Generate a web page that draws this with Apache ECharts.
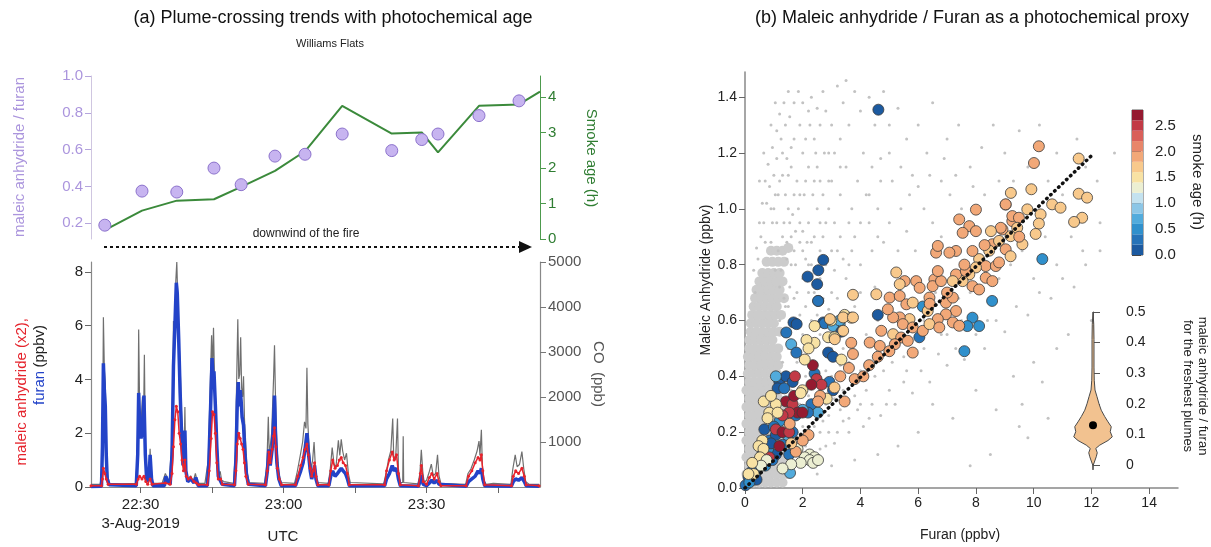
<!DOCTYPE html>
<html>
<head>
<meta charset="utf-8">
<script src="https://cdn.jsdelivr.net/npm/echarts@6/dist/echarts.min.js"></script>
<style>
html, body { margin: 0; padding: 0; background: #fff; }
#chart { width: 1211px; height: 547px; }
</style>
</head>
<body>
<div id="chart"></div>
<script>
// ---- panel (a) top: plume-crossing ratios and smoke age (time in minutes UTC) ----
var crossTime = [1342.5, 1350.3, 1357.6, 1365.4, 1371.1, 1378.2, 1384.5, 1392.3, 1402.7, 1409.0, 1412.4, 1421.0, 1429.4];
var crossRatio = [0.19, 0.375, 0.37, 0.50, 0.41, 0.565, 0.575, 0.685, 0.595, 0.655, 0.685, 0.785, 0.865];
var ageTime = [1342.5, 1350.3, 1357.6, 1365.4, 1371.1, 1378.2, 1384.5, 1392.3, 1402.7, 1409.0, 1412.4, 1421.0, 1429.4, 1433.8];
var ageHours = [0.25, 0.80, 1.08, 1.12, 1.47, 1.92, 2.47, 3.75, 2.97, 3.0, 2.44, 3.75, 3.79, 4.15];

// ---- panel (a) bottom: time series [minute, value] ----
var coSeries = [
  [1339.6,60],[1341.5,60],
  [1341.9,300],[1342.1,2200],[1342.2,3770],[1342.4,2600],[1342.6,2300],[1342.8,900],[1343.1,250],[1343.5,80],
  [1346,70],[1349.0,80],
  [1349.3,700],[1349.5,2000],[1349.6,3500],[1349.8,1800],[1350.1,1400],[1350.4,2000],[1350.6,1300],[1350.8,2940],[1351.0,900],[1351.3,150],[1351.6,100],[1351.9,500],[1352.0,850],[1352.2,300],[1352.5,80],
  [1354.5,80],[1355.2,300],[1355.6,200],[1356.0,100],
  [1356.5,900],[1356.8,2500],[1356.9,3690],[1357.1,3000],[1357.4,4600],[1357.6,5000],[1357.8,4200],[1358.0,3400],[1358.3,2700],[1358.6,1600],[1358.9,700],[1359.1,500],[1359.3,1780],[1359.5,400],[1359.8,150],[1360.5,250],[1361,100],[1361.5,300],[1362,80],
  [1363.5,80],
  [1364.2,600],[1364.6,2200],[1364.9,3370],[1365.1,2600],[1365.3,3540],[1365.5,2500],[1365.8,1800],[1366.1,900],[1366.4,250],[1366.7,350],[1367.0,150],[1367.5,120],
  [1369.5,80],
  [1369.9,800],[1370.2,2600],[1370.4,3730],[1370.6,2400],[1370.8,2500],[1371.0,3330],[1371.2,2200],[1371.4,2000],[1371.6,2460],[1371.8,1500],[1372.1,900],[1372.4,300],[1372.8,100],
  [1376.0,80],
  [1376.5,500],[1376.8,1560],[1377.0,700],[1377.5,1200],[1377.9,2400],[1378.1,3150],[1378.3,2000],[1378.6,900],[1379.0,300],[1379.5,100],
  [1382.3,80],
  [1382.8,300],[1383.5,700],[1384.0,1000],[1384.4,1450],[1384.7,1300],[1384.9,2650],[1385.1,1400],[1385.4,800],[1385.8,400],[1386.1,600],[1386.4,1000],[1386.7,400],[1387.1,100],
  [1389.4,80],
  [1389.8,400],[1390.2,875],[1390.6,500],[1391.0,450],[1391.5,1040],[1391.8,700],[1392.1,1060],[1392.4,800],[1392.8,600],[1393.2,750],[1393.6,300],[1394.0,100],
  [1401.0,70],
  [1401.5,300],[1402.0,600],[1402.5,800],[1402.9,1520],[1403.1,700],[1403.5,600],[1403.9,1520],[1404.1,400],[1404.5,100],[1405.0,100],[1405.1,1130],[1405.2,100],[1405.5,60],
  [1408.2,70],
  [1408.6,300],[1408.9,825],[1409.2,350],[1409.5,100],[1410.0,150],[1410.6,350],[1411.0,510],[1411.4,250],[1411.9,300],[1412.3,715],[1412.6,250],[1413.0,80],
  [1418.2,60],
  [1418.7,300],[1419.3,400],[1420.0,600],[1420.6,800],[1421.0,1020],[1421.2,700],[1421.5,1270],[1421.7,500],[1422.0,150],[1422.5,60],
  [1424.0,80],[1427.7,60],
  [1428.1,400],[1428.6,715],[1429.0,450],[1429.5,500],[1430.0,785],[1430.4,400],[1430.8,120],[1431.5,60],
  [1433.6,60]
];
var furanSeries = [
  [1339.6,0.02],[1341.8,0.03],
  [1342.0,1.5],[1342.2,4.6],[1342.4,3.6],[1342.6,3.0],[1342.8,1.2],[1343.0,0.3],[1343.4,0.08],
  [1349.1,0.05],
  [1349.4,1.2],[1349.6,3.5],[1349.8,2.3],[1350.1,1.8],[1350.4,2.2],[1350.7,3.4],[1351.0,1.2],[1351.3,0.2],[1351.8,0.4],[1352.0,1.2],[1352.3,0.3],[1352.6,0.05],
  [1355.0,0.05],[1355.3,0.4],[1355.7,0.2],[1356.2,0.1],
  [1356.6,1.2],[1356.9,4.5],[1357.2,6.0],[1357.5,7.6],[1357.7,7.2],[1358.0,5.5],[1358.3,3.5],[1358.6,2.0],[1358.9,0.8],[1359.1,0.8],[1359.3,2.1],[1359.5,0.6],[1359.9,0.2],[1360.5,0.3],[1361.2,0.15],[1361.6,0.35],[1362.1,0.05],
  [1364.0,0.05],
  [1364.3,0.8],[1364.7,3.0],[1365.0,4.8],[1365.2,4.0],[1365.4,4.3],[1365.7,3.0],[1366.0,1.5],[1366.3,0.4],[1366.7,0.35],[1367.1,0.1],
  [1369.7,0.05],
  [1370.0,1.0],[1370.3,3.2],[1370.5,3.9],[1370.7,3.0],[1370.9,3.6],[1371.1,3.2],[1371.3,2.6],[1371.6,2.3],[1371.9,1.2],[1372.2,0.5],[1372.6,0.1],
  [1376.2,0.05],
  [1376.6,0.6],[1376.9,1.4],[1377.2,0.8],[1377.6,1.4],[1377.9,2.4],[1378.1,3.4],[1378.3,2.0],[1378.6,0.9],[1379.0,0.3],[1379.5,0.05],
  [1382.5,0.05],
  [1383.0,0.3],[1383.6,0.6],[1384.1,0.9],[1384.5,1.4],[1384.9,2.0],[1385.2,1.3],[1385.6,0.6],[1385.9,0.3],[1386.2,0.5],[1386.5,0.8],[1386.8,0.3],[1387.2,0.05],
  [1389.5,0.05],
  [1389.9,0.4],[1390.3,0.6],[1390.8,0.4],[1391.3,0.5],[1391.7,0.6],[1392.1,0.7],[1392.5,0.6],[1393.0,0.5],[1393.4,0.3],[1393.8,0.05],
  [1401.2,0.05],
  [1401.6,0.3],[1402.2,0.5],[1402.8,0.8],[1403.2,0.6],[1403.7,0.7],[1404.1,0.3],[1404.5,0.05],
  [1408.3,0.03],
  [1408.7,0.25],[1408.9,0.45],[1409.3,0.1],[1410.0,0.05],[1410.6,0.15],[1411.1,0.25],[1411.6,0.15],[1412.2,0.25],[1412.6,0.1],[1413.0,0.03],
  [1418.3,0.03],
  [1418.8,0.2],[1419.5,0.3],[1420.2,0.4],[1420.8,0.6],[1421.2,0.5],[1421.5,0.7],[1421.8,0.3],[1422.2,0.05],
  [1427.8,0.03],
  [1428.2,0.2],[1428.7,0.3],[1429.3,0.25],[1430.0,0.35],[1430.5,0.2],[1430.9,0.05],
  [1433.6,0.03]
];
var maleicSeries = [
  [1339.6,0.05],[1341.8,0.05],
  [1342.0,0.3],[1342.2,0.7],[1342.5,0.5],[1342.8,0.3],[1343.2,0.1],
  [1349.1,0.1],
  [1349.5,0.3],[1349.8,0.4],[1350.3,0.3],[1350.7,0.4],[1351.1,0.2],[1351.5,0.1],[1352.0,0.3],[1352.4,0.1],
  [1355.2,0.15],[1356.2,0.1],
  [1356.6,0.5],[1356.9,1.5],[1357.2,2.5],[1357.5,3.0],[1357.8,2.8],[1358.1,2.0],[1358.4,1.6],[1358.7,1.0],[1359.0,0.6],[1359.3,1.0],[1359.6,0.4],[1360.0,0.3],[1360.5,0.35],[1361.2,0.2],[1361.7,0.15],[1362.2,0.08],
  [1364.0,0.08],
  [1364.4,0.6],[1364.8,1.8],[1365.1,2.8],[1365.4,2.7],[1365.7,2.0],[1366.0,0.9],[1366.3,0.3],[1366.8,0.3],[1367.2,0.1],
  [1369.7,0.08],
  [1370.0,0.6],[1370.3,1.6],[1370.6,2.0],[1370.9,1.8],[1371.2,1.6],[1371.5,1.4],[1371.8,0.9],[1372.1,0.4],[1372.6,0.1],
  [1376.2,0.08],
  [1376.6,0.6],[1376.9,1.3],[1377.2,0.9],[1377.6,1.4],[1377.9,1.9],[1378.1,2.2],[1378.4,1.5],[1378.7,0.7],[1379.1,0.3],[1379.6,0.08],
  [1382.5,0.08],
  [1383.0,0.4],[1383.6,0.8],[1384.1,1.1],[1384.5,1.4],[1384.9,1.6],[1385.2,1.2],[1385.6,0.7],[1385.9,0.4],[1386.2,0.6],[1386.5,0.9],[1386.8,0.4],[1387.2,0.08],
  [1389.5,0.08],
  [1389.9,0.6],[1390.3,1.0],[1390.8,0.7],[1391.3,0.8],[1391.7,1.0],[1392.1,1.1],[1392.5,0.9],[1393.0,0.8],[1393.4,0.5],[1393.8,0.08],
  [1401.2,0.08],
  [1401.6,0.6],[1402.2,1.0],[1402.8,1.3],[1403.2,1.0],[1403.7,1.2],[1404.1,0.5],[1404.5,0.08],
  [1408.3,0.05],
  [1408.7,0.5],[1408.9,0.8],[1409.3,0.2],[1410.0,0.1],[1410.6,0.35],[1411.1,0.5],[1411.6,0.3],[1412.2,0.5],[1412.6,0.2],[1413.0,0.05],
  [1418.3,0.05],
  [1418.8,0.4],[1419.5,0.6],[1420.2,0.9],[1420.8,1.1],[1421.2,1.0],[1421.5,1.2],[1421.8,0.6],[1422.2,0.08],
  [1427.8,0.05],
  [1428.2,0.4],[1428.7,0.6],[1429.3,0.5],[1430.0,0.7],[1430.5,0.4],[1430.9,0.08],
  [1433.6,0.05]
];
var timeTicks = [1350, 1365, 1380, 1395, 1410, 1425];
var timeLabels = [1350, 1380, 1410];

// ---- panel (b): all data (gray) and plume points [furan, MA, age] ----
var grayDense = [
  [0.1,0.02],[0.3,0.02],[0.5,0.02],[0.7,0.02],[0.9,0.02],[1.1,0.02],[1.3,0.02],
  [0.05,0.05],[0.25,0.05],[0.45,0.05],[0.65,0.05],[0.85,0.05],[1.05,0.05],[1.25,0.05],[1.45,0.05],
  [0.15,0.08],[0.35,0.08],[0.55,0.08],[0.75,0.08],[0.95,0.08],[1.15,0.08],[1.35,0.08],
  [0.05,0.11],[0.25,0.11],[0.45,0.11],[0.65,0.11],[0.85,0.11],[1.05,0.11],[1.25,0.11],[1.45,0.11],
  [0.15,0.14],[0.35,0.14],[0.55,0.14],[0.75,0.14],[0.95,0.14],[1.15,0.14],[1.35,0.14],
  [0.05,0.17],[0.25,0.17],[0.45,0.17],[0.65,0.17],[0.85,0.17],[1.05,0.17],[1.25,0.17],[1.45,0.17],
  [0.15,0.2],[0.35,0.2],[0.55,0.2],[0.75,0.2],[0.95,0.2],[1.15,0.2],[1.35,0.2],
  [0.05,0.23],[0.25,0.23],[0.45,0.23],[0.65,0.23],[0.85,0.23],[1.05,0.23],[1.25,0.23],
  [0.15,0.26],[0.35,0.26],[0.55,0.26],[0.75,0.26],[0.95,0.26],[1.15,0.26],[1.35,0.26],
  [0.05,0.29],[0.25,0.29],[0.45,0.29],[0.65,0.29],[0.85,0.29],[1.05,0.29],[1.25,0.29],
  [0.15,0.32],[0.35,0.32],[0.55,0.32],[0.75,0.32],[0.95,0.32],[1.15,0.32],
  [0.05,0.35],[0.25,0.35],[0.45,0.35],[0.65,0.35],[0.85,0.35],[1.05,0.35],[1.2,0.35],
  [0.15,0.38],[0.35,0.38],[0.55,0.38],[0.75,0.38],[0.95,0.38],[1.15,0.38],
  [0.1,0.41],[0.3,0.41],[0.5,0.41],[0.7,0.41],[0.9,0.41],[1.1,0.41],
  [0.15,0.44],[0.35,0.44],[0.55,0.44],[0.75,0.44],[0.95,0.44],[1.15,0.44],
  [0.1,0.47],[0.3,0.47],[0.5,0.47],[0.7,0.47],[0.9,0.47],[1.1,0.47],
  [0.15,0.5],[0.35,0.5],[0.55,0.5],[0.75,0.5],[0.95,0.5],[1.15,0.5],
  [0.15,0.53],[0.35,0.53],[0.55,0.53],[0.75,0.53],[0.95,0.53],
  [0.2,0.56],[0.4,0.56],[0.6,0.56],[0.8,0.56],[1.0,0.56],[1.2,0.56],
  [0.2,0.59],[0.4,0.59],[0.6,0.59],[0.8,0.59],[1.0,0.59],
  [0.25,0.62],[0.45,0.62],[0.65,0.62],[0.85,0.62],[1.05,0.62],[1.25,0.62],
  [0.3,0.65],[0.5,0.65],[0.7,0.65],[0.9,0.65],[1.1,0.65],
  [0.35,0.68],[0.55,0.68],[0.75,0.68],[0.95,0.68],[1.15,0.68],[1.35,0.68],
  [0.4,0.71],[0.6,0.71],[0.8,0.71],[1.0,0.71],[1.2,0.71],
  [0.5,0.74],[0.7,0.74],[0.9,0.74],[1.1,0.74],[1.3,0.74],
  [0.6,0.77],[0.8,0.77],[1.0,0.77],[1.2,0.77],
  [0.75,0.81],[0.95,0.81],[1.15,0.81],[1.35,0.81],[0.9,0.85],[1.1,0.85],[1.3,0.85],[1.5,0.86]
];
var graySparse = [
  [1.0,1.0],[1.2,1.1],[1.1,0.95],[1.4,1.05],[1.3,1.2],[1.6,1.15],[1.5,1.0],[1.8,1.1],[1.7,1.25],[2.0,1.2],
  [1.9,1.3],[2.2,1.35],[2.1,1.1],[2.4,1.25],[2.3,1.4],[2.6,1.3],[2.5,1.15],[2.8,1.35],[2.7,1.42],[3.0,1.3],
  [3.2,1.44],[2.9,1.2],[3.4,1.38],[3.6,1.3],[3.3,1.25],[3.8,1.42],[4.0,1.35],[3.5,1.46],[4.3,1.4],[4.5,1.3],
  [4.1,1.2],[4.8,1.42],[5.0,1.3],[4.7,1.18],[5.3,1.36],[5.6,1.25],[0.9,0.88],[1.15,0.85],[1.3,0.9],[1.25,0.78],
  [1.45,0.82],[1.6,0.9],[1.55,0.72],[1.75,0.8],[1.9,0.95],[2.0,0.85],[2.2,0.95],[2.3,0.8],[2.5,1.0],[2.7,0.9],
  [2.9,1.0],[3.1,0.95],[3.0,1.1],[3.3,1.05],[3.5,1.15],[3.7,1.0],[3.9,1.1],[4.2,1.05],[4.4,1.15],[4.6,1.0],
  [5.1,1.1],[5.4,1.0],[5.8,1.12],[6.0,1.3],[6.3,1.2],[6.5,1.38],[6.8,1.1],[7.0,1.25],[7.4,1.3],[7.8,1.15],
  [8.2,1.22],[8.6,1.3],[9.0,1.2],[9.5,1.28],[10.2,1.3],[10.8,1.2],[11.5,1.25],[12.2,1.1],[12.8,1.2],
  [2.2,0.7],[2.6,0.55],[3.0,0.7],[3.2,0.85],[3.5,0.75],[3.8,0.9],[4.0,0.8],[4.3,0.95],[4.5,0.72],[4.8,0.88],
  [5.0,0.95],[5.3,0.85],[5.6,0.92],[5.9,0.85],[6.2,1.0],[6.5,0.95],[6.8,0.9],[7.1,1.05],[7.5,1.0],[7.9,1.08],
  [8.3,1.05],[8.8,1.1],[9.3,1.1],[9.8,1.15],[10.5,1.1],[11.0,1.05],[11.8,1.15],[4.2,0.55],[4.6,0.6],[5.0,0.65],
  [5.4,0.55],[5.8,0.68],[6.2,0.6],[6.6,0.7],[7.0,0.55],[7.4,0.68],[7.8,0.7],[8.4,0.6],[8.8,0.75],[9.2,0.8],
  [9.6,0.85],[10.0,0.75],[10.4,0.9],[10.8,0.8],[11.3,0.9],[11.7,0.85],[12.3,0.95],
  [1.5,0.12],[1.8,0.15],[2.0,0.1],[2.3,0.18],[2.6,0.14],[2.9,0.2],[3.1,0.16],[3.4,0.24],[3.6,0.2],[3.9,0.28],
  [4.1,0.22],[4.4,0.3],[4.7,0.26],[5.0,0.35],[5.2,0.3],[5.5,0.38],[5.8,0.34],[6.1,0.42],[6.4,0.38],[6.7,0.48],
  [7.0,0.44],[7.3,0.5],[7.6,0.46],[8.0,0.55],[8.3,0.5],[8.7,0.6],[9.0,0.56],[9.4,0.65],[9.8,0.62],[10.2,0.7],
  [10.6,0.68],[11.0,0.75],[11.4,0.72],[11.8,0.8],[12.3,0.85],
  [6.5,0.3],[7.2,0.25],[8.0,0.35],[8.7,0.28],[9.3,0.4],[9.6,0.3],[9.5,0.22],[10.0,0.45],[10.3,0.38],[10.8,0.5],
  [11.2,0.55],[12.0,0.6],[6.0,0.2],[5.3,0.15],[4.6,0.12],[3.8,0.1],[3.0,0.08],[2.5,0.05],[8.5,0.12],[9.8,0.18],
  [7.8,0.08],[10.5,0.25],
  [1.2,0.6],[1.4,0.65],[1.5,0.5],[1.7,0.6],[1.3,0.45],[1.8,0.45],[2.0,0.55],[1.6,0.35],[2.1,0.4],[2.4,0.45],
  [2.6,0.35],[2.8,0.42],[3.0,0.5],[3.2,0.4],[3.4,0.5],[3.6,0.45],[2.2,0.28],[2.5,0.25],[2.8,0.3],[3.1,0.32],
  [3.4,0.35],[3.7,0.38],[4.0,0.42],[4.3,0.45],[1.3,0.3],[1.5,0.25],[1.7,0.22],[1.2,0.72],[1.45,0.88],[1.65,0.98],
  [0.95,0.95],[1.35,0.68],[1.05,0.78],
  [0.45,0.82],[0.55,0.9],[0.65,0.95],[0.75,1.02],[0.85,1.08],[1.0,1.12],[1.1,1.18],[1.25,1.25],[1.4,1.3],[1.55,1.33],
  [1.7,1.38],[1.85,1.42],[0.7,0.88],[0.9,1.0],[1.05,1.05],[1.5,1.12],[1.7,1.05],[1.85,1.0],[2.05,1.05],[2.2,1.15],
  [2.35,1.05],[2.45,1.2],[2.6,1.1],[2.75,1.2],[1.35,0.95],[1.55,0.95],[1.75,0.92],[2.0,0.92],[2.15,0.88],[2.4,0.9],
  [2.6,0.85],[1.8,0.7],[2.0,0.75],[2.2,0.8],[2.4,0.7],[2.6,0.75],[2.8,0.8],[3.0,0.85],[3.3,0.9],[3.6,0.95],
  [3.4,0.6],[3.8,0.65],[4.0,0.7],[3.6,0.8],[4.4,0.85],[4.6,0.9],
  [1.4,0.08],[1.6,0.1],[1.9,0.12],[2.1,0.15],[1.5,0.18],[1.8,0.2],[2.0,0.22],[2.4,0.22],[2.7,0.24],[1.6,0.28],
  [1.9,0.3],[2.2,0.33],[2.5,0.38],[2.8,0.36],[3.0,0.4],[3.3,0.44],[3.5,0.3],[3.8,0.33],[4.2,0.35],[4.5,0.4],
  [4.8,0.42],[5.1,0.45],[5.5,0.47],[4.0,0.3],[3.3,0.28],[2.9,0.26],[2.6,0.2],[2.2,0.12],[2.8,0.15],[3.2,0.2],
  [3.6,0.25],[4.3,0.25],[4.9,0.3],[5.6,0.42],[6.2,0.5],[6.8,0.55],[7.5,0.6],
  [0.35,0.7],[0.3,0.78],[0.4,0.86],[0.5,0.95],[0.6,1.02],[0.7,1.1],[0.8,1.16],[0.95,1.22],[1.1,1.28],[1.2,1.34],
  [1.35,1.38],[1.5,1.42],[1.6,1.22],[1.45,1.18],[1.3,1.12],[1.15,1.05],[1.9,1.05],[2.1,1.25],[2.25,1.3],[2.0,1.38],
  [2.5,1.36],[2.4,1.1],[2.7,1.05],[2.9,1.1],[3.1,1.2],[3.3,1.15],[2.6,0.95],[2.8,0.95],[1.6,0.8],[1.7,0.85],
  [1.9,0.88],[2.1,0.82],[2.3,0.88],[1.5,0.65],[1.7,0.68],[1.9,0.62],[2.1,0.65],[2.3,0.6],[2.5,0.62],[2.7,0.68],
  [2.9,0.64],[3.2,0.68],[3.5,0.62],[3.1,0.78],[3.4,0.82],[3.7,0.85],[4.0,0.95],[4.3,1.05],[4.7,1.1],[5.0,1.2],
  [5.4,1.15],[5.7,1.05],[6.0,1.08],[6.4,1.12],[6.9,1.18],[7.3,1.12],[0.5,1.1],[0.65,1.2],[0.9,1.3],[1.05,1.38]
];
var plumePoints = [
  [2.17,0.757,0.1],[2.54,0.78,0.1],[2.71,0.817,0.1],[2.5,0.73,0.1],[2.54,0.67,0.2],[4.62,1.355,0.1],
  [10.3,0.82,0.5],[8.56,0.67,0.5],[7.6,0.49,0.5],[7.88,0.61,0.5],[8.11,0.58,0.5],[7.7,0.58,0.5],[6.04,0.54,0.3],
  [4.6,0.62,0.1],[6.16,0.65,0.5],[2.71,0.593,0.1],[3.28,0.587,0.7],
  [1.68,0.593,0.1],[1.79,0.587,0.1],[1.43,0.557,0.3],[1.6,0.515,0.7],[1.78,0.485,0.3],[2.53,0.67,0.3],[2.76,0.59,0.3],
  [3.05,0.58,0.7],[3.28,0.6,0.7],[3.34,0.56,0.1],[2.88,0.485,0.1],[3.05,0.47,0.1],[2.41,0.41,0.3],[2.92,0.38,0.3],
  [3.05,0.35,0.1],[1.19,0.38,0.1],[1.42,0.40,0.1],[1.65,0.38,0.1],[1.13,0.357,0.1],[1.36,0.357,0.3],[1.07,0.40,0.7],
  [2.3,0.30,0.3],[2.53,0.27,0.7],[2.18,0.27,0.3],[0.67,0.21,0.1],[0.84,0.17,0.3],[1.07,0.19,0.1],[1.3,0.155,0.3],
  [1.47,0.19,0.7],[1.65,0.20,0.3],[1.76,0.26,0.3],[2.0,0.28,0.7],[1.07,0.12,0.1],[0.95,0.10,0.3],[1.53,0.12,0.3],
  [1.56,0.054,0.7],[0.24,0.06,0.3],[0.12,0.04,0.1],[0.35,0.05,0.7],[0.47,0.08,0.3],[0.6,0.12,0.3],[0.02,0.01,0.3],
  [0.29,0.03,0.5],[0.8,0.14,0.5],[0.9,0.16,0.1],[1.2,0.24,0.5],[0.5,0.1,0.5],[0.7,0.08,0.5],[0.4,0.03,0.1],
  [0.15,0.02,0.5],[1.0,0.22,0.3],
  [2.35,0.44,2.7],[2.48,0.39,2.5],[2.65,0.37,2.5],[1.73,0.40,2.5],[1.42,0.31,2.7],[1.65,0.30,2.5],[1.82,0.27,2.7],
  [1.99,0.27,2.7],[1.53,0.27,2.5],[1.3,0.26,2.5],[1.07,0.21,2.5],[1.3,0.2,2.7],[1.53,0.2,2.5],[0.84,0.11,2.5],
  [1.19,0.15,2.7],[2.3,0.37,2.7],[1.7,0.33,2.7],
  [2.41,0.58,1.5],[2.88,0.54,1.5],[2.41,0.52,1.5],[2.13,0.53,1.5],[2.2,0.50,1.5],[2.07,0.46,1.5],[3.45,0.62,1.5],
  [2.99,0.60,1.5],[3.68,0.61,1.5],[3.1,0.54,1.5],[3.34,0.46,1.5],[2.83,0.32,1.5],[1.99,0.35,1.5],[1.93,0.34,1.5],
  [1.07,0.30,1.5],[0.84,0.27,1.5],[0.78,0.25,1.5],[1.13,0.27,1.5],[0.6,0.17,1.5],[0.47,0.15,1.5],[0.64,0.14,1.5],
  [0.52,0.11,1.5],[0.75,0.10,1.3],[0.56,0.08,1.3],[0.25,0.09,1.5],[2.24,0.12,1.3],[2.07,0.11,1.3],[2.41,0.11,1.3],
  [2.24,0.10,1.3],[2.36,0.09,1.3],[1.93,0.09,1.3],[1.6,0.085,1.3],[1.82,0.14,1.3],[2.53,0.10,1.3],[1.3,0.07,1.3],
  [0.3,0.05,1.5],[0.12,0.05,1.5],[0.65,0.31,1.5],[0.9,0.33,1.5],
  [3.68,0.52,1.9],[3.6,0.43,1.9],[3.8,0.39,1.9],[3.45,0.31,1.9],[2.6,0.33,1.9],[2.53,0.31,1.9],[2.2,0.19,1.9],
  [2.0,0.17,1.9],[1.76,0.13,1.9],[1.6,0.16,1.7],[1.55,0.23,1.9],[3.3,0.4,1.9],[3.1,0.36,1.7],
  [9.21,1.057,1.6],[9.03,1.015,1.9],[8.0,0.997,1.9],[7.42,0.962,1.9],[7.77,0.938,1.9],[8.0,0.92,1.9],[7.54,0.914,1.9],
  [8.92,0.926,1.9],[9.26,0.956,1.9],[8.57,0.873,1.9],[8.8,0.885,1.6],[9.03,0.855,1.9],[9.2,0.83,1.6],[8.46,0.85,1.6],
  [8.11,0.82,1.6],[8.34,0.795,1.9],[8.69,0.795,1.9],[8.8,0.808,1.9],[7.88,0.849,1.9],[7.31,0.849,1.9],[7.08,0.843,1.9],
  [6.62,0.843,1.9],[6.68,0.867,1.9],[8.0,0.79,1.6],[7.77,0.765,1.6],[8.34,0.753,1.9],[8.57,0.741,1.9],[7.54,0.741,1.6],
  [7.31,0.765,1.9],[7.88,0.723,1.9],[8.11,0.711,1.9],[7.65,0.777,1.9],[7.2,0.741,1.6],[6.56,0.747,1.9],[6.5,0.723,1.9],
  [6.79,0.741,1.9],[6.68,0.777,1.9],[5.24,0.772,1.6],[5.53,0.741,1.9],[5.93,0.741,1.9],[6.05,0.717,1.9],[5.36,0.73,1.6],
  [4.55,0.694,1.6],[3.74,0.692,1.6],[5.01,0.682,1.9],[5.36,0.688,1.9],[5.59,0.658,1.9],[5.81,0.664,1.6],[6.39,0.682,1.9],
  [6.96,0.664,1.9],[7.2,0.682,1.9],[7.31,0.634,1.9],[6.96,0.622,1.9],[6.68,0.605,1.9],[6.33,0.634,1.6],[5.7,0.605,1.6],
  [5.36,0.611,1.9],[5.13,0.611,1.9],[4.95,0.64,1.9],[5.47,0.587,1.9],[5.81,0.575,1.9],[6.16,0.563,1.9],[6.39,0.587,1.6],
  [6.73,0.575,1.9],[7.2,0.593,1.9],[7.42,0.581,1.9],[4.72,0.563,1.9],[5.13,0.551,1.6],[5.41,0.539,1.9],[5.64,0.527,1.9],
  [4.32,0.521,1.9],[4.67,0.509,1.9],[5.19,0.515,1.9],[5.81,0.485,1.9],[3.74,0.48,1.9],[3.4,0.611,1.6],[3.4,0.563,1.6],
  [3.74,0.611,1.6],[3.11,0.533,1.6],[2.94,0.605,1.6],
  [10.18,1.224,1.9],[10.01,1.164,1.9],[11.56,1.18,1.6],[9.92,1.07,1.6],[11.56,1.054,1.6],[11.85,1.04,1.6],[9.03,1.016,1.9],
  [9.78,0.998,1.6],[10.24,0.98,1.6],[10.64,1.016,1.6],[10.93,1.004,1.6],[10.18,0.947,1.6],[11.68,0.968,1.6],[11.4,0.953,1.6],
  [10.07,0.91,1.6],[9.26,0.974,1.9],[9.49,0.968,1.9],[9.43,0.932,1.6],[9.2,0.902,1.6],[9.61,0.873,1.6],[8.86,0.932,1.9],
  [8.52,0.92,1.6],
  [4.3,0.44,1.9],[4.6,0.47,1.9],[5.0,0.49,1.9],[4.1,0.40,1.9],[6.4,0.66,1.9],[7.0,0.70,1.9],[7.6,0.8,1.9],[8.3,0.87,1.9],[9.5,0.9,1.9]
];
var fitLine = [[0, 0], [12, 1.19]];

// smoke-age colour scale, 0.2 h per band
var ageColors = ['#1c5aa0','#2673b8','#3090cc','#52abdc','#8cc6e6','#c4e2ef','#ecefd2',
                 '#f8e2a4','#f8c98c','#f2a878','#e8866a','#d9605a','#c23a46','#951a30'];
var ageBands = [[0,0.2],[0.2,0.4],[0.4,0.6],[0.6,0.8],[0.8,1.0],[1.0,1.2],[1.2,1.4],
                [1.4,1.6],[1.6,1.8],[1.8,2.0],[2.0,2.2],[2.2,2.4],[2.4,2.6],[2.6,2.8]];

// violin: ratio vs half-width for the freshest plumes
var violinRatio = [-0.016, 0.0, 0.027, 0.04, 0.054, 0.065, 0.08, 0.092, 0.109, 0.125, 0.141, 0.158, 0.179, 0.2, 0.223, 0.245, 0.277, 0.32, 0.41, 0.46, 0.5];
var violinWidth = [0, 0.012, 0.13, 0.17, 0.11, 0.27, 0.6, 0.77, 0.69, 0.73, 0.6, 0.47, 0.33, 0.24, 0.16, 0.08, 0.05, 0.04, 0.04, 0.03, 0];
var violinMedian = 0.13;

var FONT = '"Liberation Sans", Arial, sans-serif';

function ageColor(a) {
  var i = Math.min(ageColors.length - 1, Math.floor(a / 0.2));
  return ageColors[i];
}
function hhmm(v) {
  var h = Math.floor(v / 60), m = Math.round(v - h * 60);
  return h + ':' + (m < 10 ? '0' : '') + m;
}
function pairs(xs, ys) {
  return xs.map(function (x, i) { return [x, ys[i]]; });
}

var chart = echarts.init(document.getElementById('chart'));

var option = {
  animation: false,
  backgroundColor: '#fff',
  textStyle: { fontFamily: FONT },
  grid: [
    { left: 91, top: 76, width: 449, height: 163 },
    { left: 91, top: 262, width: 449, height: 225 },
    { left: 745, top: 72, width: 433, height: 416 },
    { left: 1132, top: 110, width: 11, height: 145, show: true, borderColor: '#333', borderWidth: 0.8 },
    { left: 1068, top: 312, width: 50, height: 153 }
  ],
  xAxis: [
    { gridIndex: 0, type: 'value', min: 1339.6, max: 1433.8, show: false },
    {
      gridIndex: 1, type: 'value', min: 1339.6, max: 1433.8,
      axisLine: { lineStyle: { color: '#888', width: 1.2 } },
      axisTick: { customValues: timeTicks, length: 6, lineStyle: { color: '#666' } },
      splitLine: { show: false },
      axisLabel: {
        customValues: timeLabels, color: '#222', fontSize: 15, lineHeight: 19, margin: 8,
        formatter: function (v) { return v === 1350 ? '22:30\n3-Aug-2019' : hhmm(v); }
      }
    },
    {
      gridIndex: 2, type: 'value', min: 0, max: 15, interval: 2,
      axisLine: { lineStyle: { color: '#888', width: 1.5 } },
      axisTick: { length: 6, lineStyle: { color: '#666' } },
      splitLine: { show: false },
      axisLabel: { color: '#222', fontSize: 14, margin: 8, showMaxLabel: false }
    },
    { gridIndex: 3, type: 'value', min: 0, max: 1, show: false },
    { gridIndex: 4, type: 'value', min: -1, max: 1, show: false }
  ],
  yAxis: [
    {
      gridIndex: 0, type: 'value', min: 0.115, max: 1.0, position: 'left',
      axisLine: { show: true, lineStyle: { color: '#cfc6e0' } },
      axisTick: { show: true, customValues: [0.2, 0.4, 0.6, 0.8, 1.0], length: 6, lineStyle: { color: '#b5a5dc' } },
      splitLine: { show: false },
      axisLabel: { customValues: [0.2, 0.4, 0.6, 0.8, 1.0], color: '#ab95dd', fontSize: 15,
        formatter: function (v) { return v.toFixed(1); } }
    },
    {
      gridIndex: 0, type: 'value', min: 0, max: 4.59, position: 'right',
      axisLine: { show: true, lineStyle: { color: '#4d9a4d' } },
      axisTick: { show: true, customValues: [0, 1, 2, 3, 4], length: 6, lineStyle: { color: '#4d9a4d' } },
      splitLine: { show: false },
      axisLabel: { customValues: [0, 1, 2, 3, 4], color: '#2f7d32', fontSize: 15 }
    },
    {
      gridIndex: 1, type: 'value', min: 0, max: 8.37, position: 'left',
      axisLine: { show: true, lineStyle: { color: '#888', width: 1.2 } },
      axisTick: { show: true, customValues: [0, 2, 4, 6, 8], length: 6, lineStyle: { color: '#666' } },
      splitLine: { show: false },
      axisLabel: { customValues: [0, 2, 4, 6, 8], color: '#222', fontSize: 15 }
    },
    {
      gridIndex: 1, type: 'value', min: 0, max: 5000, position: 'right',
      axisLine: { show: true, lineStyle: { color: '#888', width: 1.2 } },
      axisTick: { show: true, customValues: [1000, 2000, 3000, 4000, 5000], length: 6, lineStyle: { color: '#777' } },
      splitLine: { show: false },
      axisLabel: { customValues: [1000, 2000, 3000, 4000, 5000], color: '#555', fontSize: 15,
        formatter: function (v) { return String(v); } }
    },
    {
      gridIndex: 2, type: 'value', min: 0, max: 1.49, interval: 0.2,
      axisLine: { show: true, lineStyle: { color: '#888', width: 1.5 } },
      axisTick: { show: true, length: 6, lineStyle: { color: '#666' } },
      splitLine: { show: false },
      axisLabel: { color: '#222', fontSize: 14, margin: 8, showMaxLabel: false,
        formatter: function (v) { return v.toFixed(1); } }
    },
    {
      gridIndex: 3, type: 'value', min: 0, max: 2.8, position: 'right',
      axisLine: { show: false },
      axisTick: { show: true, customValues: [0, 0.5, 1, 1.5, 2, 2.5], length: 9, lineStyle: { color: '#444' } },
      splitLine: { show: false },
      axisLabel: { customValues: [0, 0.5, 1, 1.5, 2, 2.5], color: '#222', fontSize: 15, margin: 12,
        formatter: function (v) { return v.toFixed(1); } }
    },
    {
      gridIndex: 4, type: 'value', min: 0, max: 0.5, interval: 0.1, position: 'right',
      axisLine: { show: true, lineStyle: { color: '#555' } },
      axisTick: { show: true, length: 7, lineStyle: { color: '#555' } },
      splitLine: { show: false },
      axisLabel: { color: '#222', fontSize: 14, margin: 8,
        formatter: function (v) { return v === 0 ? '0' : v.toFixed(1); } }
    }
  ],
  series: [
    {
      type: 'line', xAxisIndex: 0, yAxisIndex: 1, data: pairs(ageTime, ageHours),
      showSymbol: false, lineStyle: { color: '#3b8a3b', width: 2 }, z: 2
    },
    {
      type: 'scatter', xAxisIndex: 0, yAxisIndex: 0, data: pairs(crossTime, crossRatio),
      symbolSize: 12, itemStyle: { color: '#c7b4f0', borderColor: '#8c72cc', borderWidth: 1, opacity: 1 }, z: 3
    },
    {
      type: 'line', xAxisIndex: 1, yAxisIndex: 3, data: coSeries,
      showSymbol: false, lineStyle: { color: '#6f6f6f', width: 1.2 }, z: 2
    },
    {
      type: 'line', xAxisIndex: 1, yAxisIndex: 2, data: furanSeries,
      showSymbol: false, lineStyle: { color: '#2343c8', width: 3.5 }, z: 3
    },
    {
      type: 'line', xAxisIndex: 1, yAxisIndex: 2, data: maleicSeries,
      symbol: 'circle', symbolSize: 3, showSymbol: true,
      itemStyle: { color: '#e8232c' }, lineStyle: { color: '#e8232c', width: 1.5 }, z: 4
    },
    {
      type: 'scatter', xAxisIndex: 2, yAxisIndex: 4, data: grayDense, silent: true,
      symbolSize: 10, itemStyle: { color: '#cccccc', opacity: 1, borderWidth: 0 }, z: 1
    },
    {
      type: 'scatter', xAxisIndex: 2, yAxisIndex: 4, data: graySparse, silent: true,
      symbolSize: 3, itemStyle: { color: '#c2c2c2', opacity: 1, borderWidth: 0 }, z: 1
    },
    {
      type: 'scatter', xAxisIndex: 2, yAxisIndex: 4, data: plumePoints,
      symbolSize: 11,
      itemStyle: {
        color: function (p) { return ageColor(p.value[2]); },
        borderColor: '#3a3a3a', borderWidth: 0.8, opacity: 1
      }, z: 3
    },
    {
      type: 'line', xAxisIndex: 2, yAxisIndex: 4, data: fitLine, showSymbol: false,
      lineStyle: { color: '#111', width: 3.5, type: [0.5, 5], cap: 'round' }, z: 4
    },
    {
      type: 'custom', xAxisIndex: 3, yAxisIndex: 5, data: ageBands.map(function (b, i) { return [b[0], b[1], i]; }),
      renderItem: function (params, api) {
        var p0 = api.coord([0, api.value(0)]);
        var p1 = api.coord([1, api.value(1)]);
        return {
          type: 'rect',
          shape: { x: p0[0], y: p1[1], width: p1[0] - p0[0], height: p0[1] - p1[1] },
          style: { fill: ageColors[api.value(2)] }
        };
      },
      silent: true, z: 2
    },
    {
      type: 'custom', xAxisIndex: 4, yAxisIndex: 6, data: [[0, violinMedian]], clip: false,
      renderItem: function (params, api) {
        var pts = [];
        for (var i = 0; i < violinRatio.length; i++) pts.push(api.coord([violinWidth[i], violinRatio[i]]));
        for (var j = violinRatio.length - 1; j >= 0; j--) pts.push(api.coord([-violinWidth[j], violinRatio[j]]));
        return {
          type: 'polygon', shape: { points: pts },
          style: { fill: '#f2c290', stroke: '#4a4a4a', lineWidth: 1 }
        };
      },
      silent: true, z: 2
    },
    {
      type: 'scatter', xAxisIndex: 4, yAxisIndex: 6, data: [[0, violinMedian]],
      symbolSize: 8, itemStyle: { color: '#000', opacity: 1 }, z: 3
    }
  ],
  graphic: [
    { type: 'text', x: 333, y: 18, style: { text: '(a) Plume-crossing trends with photochemical age', font: '18px ' + FONT, fill: '#111', textAlign: 'center', textVerticalAlign: 'middle' } },
    { type: 'text', x: 330, y: 44, style: { text: 'Williams Flats', font: '11px ' + FONT, fill: '#222', textAlign: 'center', textVerticalAlign: 'middle' } },
    { type: 'text', x: 972, y: 18, style: { text: '(b) Maleic anhydride / Furan as a photochemical proxy', font: '18px ' + FONT, fill: '#111', textAlign: 'center', textVerticalAlign: 'middle' } },
    { type: 'text', x: 20, y: 157, rotation: Math.PI / 2, style: { text: 'maleic anhydride / furan', font: '15px ' + FONT, fill: '#ab95dd', textAlign: 'center', textVerticalAlign: 'middle' } },
    { type: 'text', x: 591, y: 158, rotation: -Math.PI / 2, style: { text: 'Smoke age (h)', font: '15px ' + FONT, fill: '#2f7d32', textAlign: 'center', textVerticalAlign: 'middle' } },
    { type: 'text', x: 22, y: 318, rotation: Math.PI / 2, style: { text: 'maleic anhydride (x2),', font: '15px ' + FONT, fill: '#e5232c', textAlign: 'right', textVerticalAlign: 'middle' } },
    { type: 'text', x: 40, y: 325, rotation: Math.PI / 2, style: {
        text: '{b|furan} {k|(ppbv)}', textAlign: 'right', textVerticalAlign: 'middle',
        rich: { b: { fill: '#2343c8', font: '15px ' + FONT }, k: { fill: '#222', font: '15px ' + FONT } } } },
    { type: 'text', x: 598, y: 374, rotation: -Math.PI / 2, style: { text: 'CO  (ppb)', font: '15px ' + FONT, fill: '#555', textAlign: 'center', textVerticalAlign: 'middle' } },
    { type: 'text', x: 283, y: 537, style: { text: 'UTC', font: '15px ' + FONT, fill: '#222', textAlign: 'center', textVerticalAlign: 'middle' } },
    { type: 'line', shape: { x1: 104, y1: 247, x2: 522, y2: 247 }, style: { stroke: '#111', lineWidth: 2, lineDash: [3, 3] } },
    { type: 'polygon', shape: { points: [[519, 241], [532, 247], [519, 253]] }, style: { fill: '#111' } },
    { type: 'text', x: 306, y: 234, style: { text: 'downwind of the fire', font: '12px ' + FONT, fill: '#222', textAlign: 'center', textVerticalAlign: 'middle' } },
    { type: 'text', x: 706, y: 280, rotation: Math.PI / 2, style: { text: 'Maleic Anhydride (ppbv)', font: '14px ' + FONT, fill: '#222', textAlign: 'center', textVerticalAlign: 'middle' } },
    { type: 'text', x: 960, y: 535, style: { text: 'Furan (ppbv)', font: '14px ' + FONT, fill: '#222', textAlign: 'center', textVerticalAlign: 'middle' } },
    { type: 'text', x: 1197, y: 182, rotation: -Math.PI / 2, style: { text: 'smoke age (h)', font: '15px ' + FONT, fill: '#222', textAlign: 'center', textVerticalAlign: 'middle' } },
    { type: 'text', x: 1203, y: 386, rotation: -Math.PI / 2, style: { text: 'maleic anhydride / furan', font: '13px ' + FONT, fill: '#222', textAlign: 'center', textVerticalAlign: 'middle' } },
    { type: 'text', x: 1188, y: 386, rotation: -Math.PI / 2, style: { text: 'for the freshest plumes', font: '13px ' + FONT, fill: '#222', textAlign: 'center', textVerticalAlign: 'middle' } }
  ]
};

chart.setOption(option);
</script>
</body>
</html>
